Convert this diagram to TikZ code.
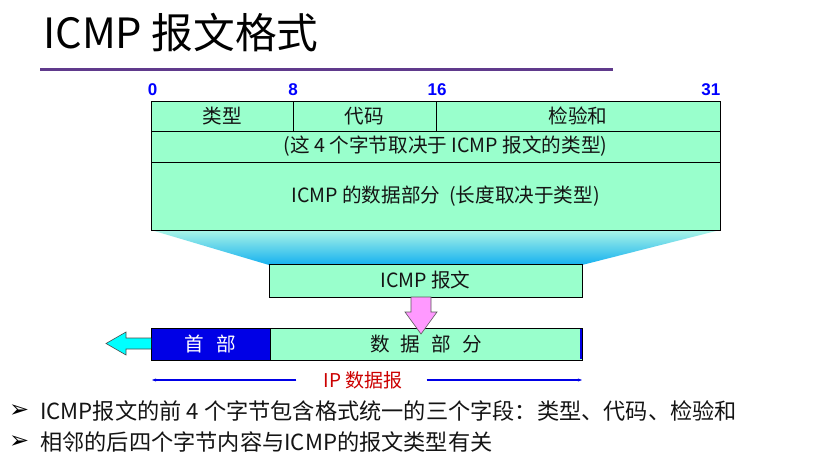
\documentclass[tikz,border=0pt]{standalone}
\usepackage{fontspec}
\setmainfont{Noto Sans CJK SC}
\newfontfamily\numfont{Liberation Sans}
\newfontfamily\symfont{DejaVu Sans}
\usetikzlibrary{arrows.meta}
\definecolor{mint}{RGB}{153,255,204}
\definecolor{hdrblue}{RGB}{0,0,230}
\definecolor{rulepurple}{RGB}{96,58,140}
\definecolor{labelred}{RGB}{204,0,0}
\definecolor{pinkfill}{RGB}{255,153,255}
\definecolor{cyanfill}{RGB}{0,255,255}
\definecolor{funneltop}{RGB}{170,245,230}
\definecolor{funnelbot}{RGB}{20,176,240}
\definecolor{inktext}{RGB}{20,20,20}
\tikzset{
  cell/.style={draw=black, line width=0.8pt, fill=mint, anchor=north west,
    inner sep=0pt, outer sep=0pt, text=inktext, font=\fontsize{19.6}{22}\selectfont},
  bitlabel/.style={text=blue, font=\numfont\bfseries\fontsize{17}{19}\selectfont, inner sep=0pt},
  bullet/.style={anchor=west, inner sep=0pt, text=inktext, font=\fontsize{22.2}{25}\selectfont},
  bulletmark/.style={anchor=west, inner sep=0pt, font=\symfont\fontsize{24}{25}\selectfont},
}
\begin{document}
\begin{tikzpicture}[x=1pt,y=-1pt]
\useasboundingbox (0,0) rectangle (834,465);
\fill[white] (0,0) rectangle (834,465);

% title and rule
\node[anchor=west, inner sep=0pt, font=\fontsize{41.7}{46}\selectfont] (title) at (43,33) {ICMP 报文格式};
\draw[rulepurple, line width=2.4pt] (40,69.5) -- (613,69.5);

% bit positions
\node[bitlabel] (b0) at (152.5,89.5) {0};
\node[bitlabel] (b8) at (293,89.5) {8};
\node[bitlabel] (b16) at (437,89.5) {16};
\node[bitlabel, anchor=east] (b31) at (720.5,89.5) {31};

% funnel from the header format down to the message box
\shade[top color=funneltop, bottom color=funnelbot]
  (151,230) -- (720,230) -- (582,265) -- (269,265) -- cycle;

% ICMP header layout
\node[cell, minimum width=142pt, minimum height=30pt] (type) at (151,101) {类型};
\node[cell, minimum width=143pt, minimum height=30pt] (code) at (293,101) {代码};
\node[cell, minimum width=284pt, minimum height=30pt] (sum) at (436,101) {检验和};
\node[cell, minimum width=569pt, minimum height=31pt] (rest) at (151,131) {\hspace*{20pt}(这 4 个字节取决于 ICMP 报文的类型)};
\node[cell, minimum width=569pt, minimum height=68pt] (data) at (151,162) {\hspace*{20pt}ICMP 的数据部分\hspace{9pt}(长度取决于类型)};

% ICMP message
\node[cell, minimum width=313pt, minimum height=33pt] (msg) at (269,264) {ICMP 报文};

% IP datagram
\node[cell, fill=hdrblue, text=white, minimum width=119pt, minimum height=32pt] (hdr) at (151,328) {首\hspace{12pt}部};
\node[cell, minimum width=312pt, minimum height=32pt] (payload) at (270,328) {数\hspace{11pt}据\hspace{11pt}部\hspace{11pt}分};
\fill[hdrblue] (579.5,329) rectangle (582,359);
\draw[black, line width=0.8pt] (hdr.north west) rectangle (payload.south east);

% message goes into the data part
\draw[gray!70!black, line width=0.6pt, fill=pinkfill]
  (411,297) -- (431,297) -- (431,312) -- (437,312) -- (421,334)
  -- (405,312) -- (411,312) -- cycle;

% datagram passed on
\draw[gray!60!black, line width=0.6pt, fill=cyanfill]
  (151,338) -- (126,338) -- (126,332) -- (106,343.5) -- (126,355)
  -- (126,349) -- (151,349);

% span of the IP datagram
\node[text=labelred, inner sep=0pt, font=\fontsize{19}{22}\selectfont] (iplabel) at (363,380) {IP 数据报};
\coordinate (spanL) at (152,380);
\coordinate (spanR) at (582,380);
\draw[hdrblue, line width=1.2pt, -{Stealth[length=4pt,width=3pt]}] (iplabel.west) ++(-27,0) -- (spanL);
\draw[hdrblue, line width=1.2pt, -{Stealth[length=4pt,width=3pt]}] (iplabel.east) ++(24,0) -- (spanR);

% notes
\node[bulletmark] (m1) at (9,411) {➢};
\node[bullet] (t1) at (40,411) {ICMP报文的前 4 个字节包含格式统一的三个字段：类型、代码、检验和};
\node[bulletmark] (m2) at (9,442) {➢};
\node[bullet] (t2) at (40,442) {相邻的后四个字节内容与ICMP的报文类型有关};
\end{tikzpicture}
\end{document}
